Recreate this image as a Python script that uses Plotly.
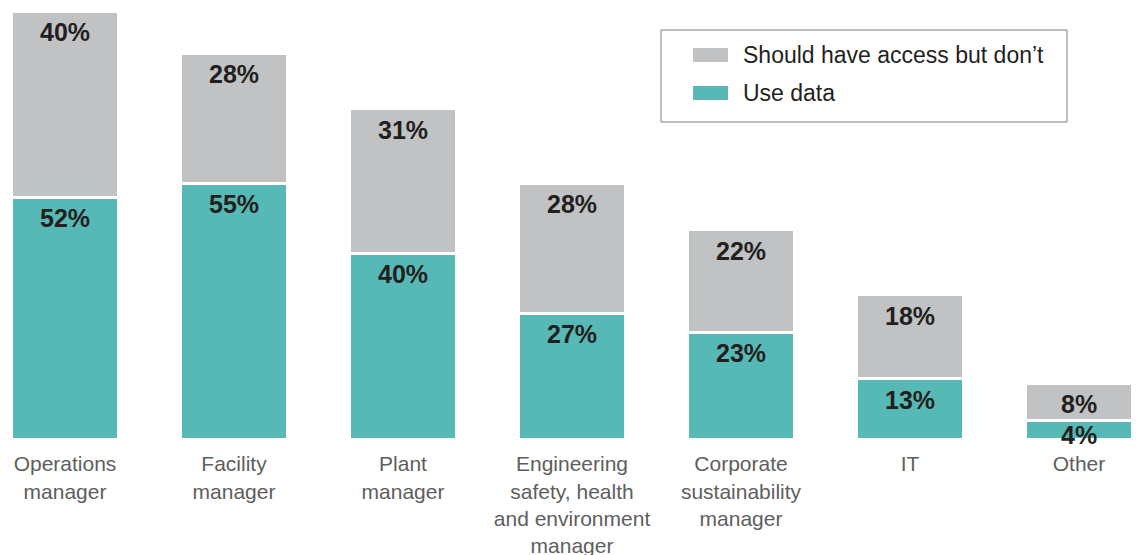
import plotly.graph_objects as go

# Roles surveyed and share of respondents (%)
categories = [
    "Operations<br>manager",
    "Facility<br>manager",
    "Plant<br>manager",
    "Engineering<br>safety, health<br>and environment<br>manager",
    "Corporate<br>sustainability<br>manager",
    "IT",
    "Other",
]
use_data = [52, 55, 40, 27, 23, 13, 4]
should_have_access = [40, 28, 31, 28, 22, 18, 8]

series_names = ["Should have access but don’t", "Use data"]

TEAL = "#56B9B5"
GRAY = "#C1C2C4"
LABEL_DARK = "#231F20"
AXIS_TEXT = "#5E5E5E"
FONT = "Liberation Sans, Arial, sans-serif"

W, H = 1136, 555
PLOT_BOTTOM = 439          # pixel row of the baseline
PX_PER_PCT = 4.65

fig = go.Figure()
fig.add_bar(
    x=categories, y=use_data, name=series_names[1],
    marker=dict(color=TEAL, line=dict(color="white", width=3)),
    width=0.633, hoverinfo="skip",
)
fig.add_bar(
    x=categories, y=should_have_access, name=series_names[0],
    marker=dict(color=GRAY, line=dict(color="white", width=3)),
    width=0.633, hoverinfo="skip",
)

annotations = []
for cat, u, s in zip(categories, use_data, should_have_access):
    for top, val in ((u, u), (u + s, s)):
        # keep the value label close to the top of short segments
        drop = min(21, val * PX_PER_PCT * 0.8)
        annotations.append(dict(
            x=cat, y=top, xref="x", yref="y",
            text=f"<b>{val}%</b>", showarrow=False,
            yanchor="middle", yshift=-drop,
            font=dict(family=FONT, size=25, color=LABEL_DARK),
        ))

# Legend box drawn in paper coordinates
def px_x(p):
    return p / W

def px_y(p):
    return 1 - p / PLOT_BOTTOM

shapes = [
    dict(type="rect", xref="paper", yref="paper",
         x0=px_x(661), x1=px_x(1067), y0=px_y(122), y1=px_y(30),
         line=dict(color="#7F7F7F", width=1), fillcolor="white", layer="below"),
]
legend_rows = [(series_names[0], GRAY, 55), (series_names[1], TEAL, 93)]
for name, color, cy in legend_rows:
    shapes.append(dict(type="rect", xref="paper", yref="paper",
                       x0=px_x(693), x1=px_x(728), y0=px_y(cy + 7), y1=px_y(cy - 7),
                       line=dict(width=0), fillcolor=color))
    annotations.append(dict(
        x=px_x(741), y=px_y(cy), xref="paper", yref="paper",
        text=name, showarrow=False, xanchor="left", yanchor="middle",
        font=dict(family=FONT, size=23, color=LABEL_DARK),
    ))

fig.update_layout(
    barmode="stack",
    width=W, height=H,
    margin=dict(l=0, r=0, t=0, b=H - PLOT_BOTTOM, pad=0, autoexpand=False),
    paper_bgcolor="white", plot_bgcolor="white",
    showlegend=False,
    annotations=annotations,
    shapes=shapes,
    xaxis=dict(
        range=[-65 / 169, (W - 65) / 169],
        automargin=False,
        showgrid=False, zeroline=False, showline=False,
        ticks="outside", ticklen=6, tickcolor="rgba(0,0,0,0)",
        tickfont=dict(family=FONT, size=21, color=AXIS_TEXT),
        fixedrange=True,
    ),
    yaxis=dict(
        range=[0, PLOT_BOTTOM / PX_PER_PCT],
        visible=False, fixedrange=True,
    ),
)

fig.write_html("out.html")
